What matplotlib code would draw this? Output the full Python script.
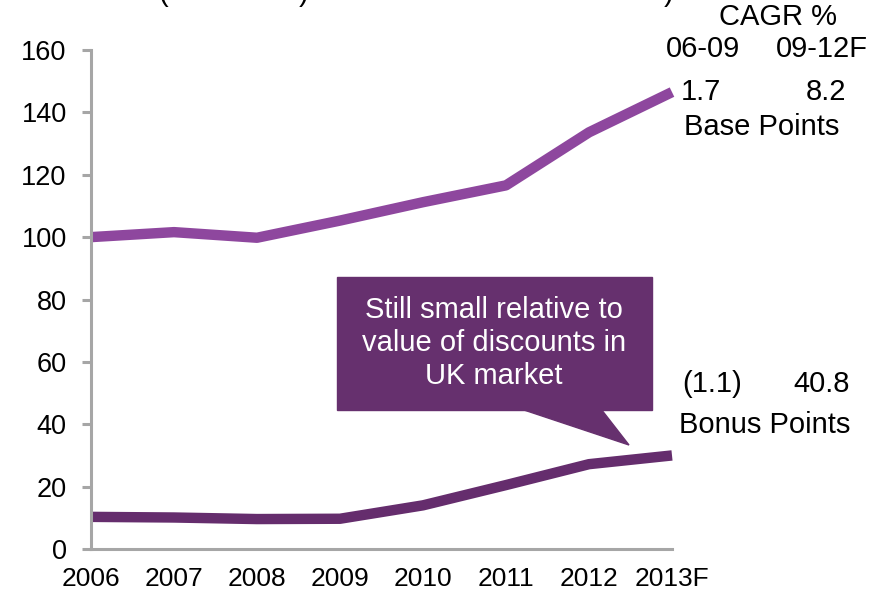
import matplotlib.pyplot as plt
from matplotlib.patches import Polygon, Rectangle

plt.rcParams['font.family'] = ['Liberation Sans', 'DejaVu Sans']

# datos
years = ['2006', '2007', '2008', '2009', '2010', '2011', '2012', '2013F']
base_points = [100, 101.6, 99.8, 105.3, 111.2, 116.6, 133.6, 146.5]
bonus_points = [10.3, 10.1, 9.6, 9.7, 14.0, 20.5, 27.2, 30.0]
cagr_periods = ['06-09', '09-12F']
cagr_base = ['1.7', '8.2']
cagr_bonus = ['(1.1)', '40.8']

base_color = '#8E479E'
bonus_color = '#652D6D'
box_color = '#66306E'
axis_gray = '#A6A6A6'

W, H = 883, 592
fig = plt.figure(figsize=(W / 100, H / 100), dpi=100)
ax = fig.add_axes([91 / W, 1 - 549 / H, (672 - 91) / W, (549 - 50) / H])

x = range(len(years))
ax.plot(x, base_points, color=base_color, lw=7.5, solid_capstyle='butt', solid_joinstyle='round', clip_on=False)
ax.plot(x, bonus_points, color=bonus_color, lw=7.5, solid_capstyle='butt', solid_joinstyle='round', clip_on=False)

ax.set_xlim(0, len(years) - 1)
ax.set_ylim(0, 160)
ax.set_yticks(range(0, 161, 20))
ax.set_xticks(list(x))
ax.set_xticklabels(years)

for s in ['top', 'right']:
    ax.spines[s].set_visible(False)
for s in ['left', 'bottom']:
    ax.spines[s].set_color(axis_gray)
    ax.spines[s].set_linewidth(2.2)
ax.tick_params(axis='y', length=6.5, width=2.2, color=axis_gray, pad=11, labelsize=19.5)
ax.tick_params(axis='x', length=0, pad=13, labelsize=19)

# globo de texto
def px(xp, yp):
    return (xp - 91) / 83.0, (549 - yp) * 160 / 499.0

bl = px(337, 410)
tr = px(652, 277)
ax.add_patch(Rectangle(bl, tr[0] - bl[0], tr[1] - bl[1], color=box_color, clip_on=False, zorder=3))
ax.add_patch(Polygon([px(521, 409), px(629, 445), px(601, 409)], closed=True, color=box_color, clip_on=False, zorder=3))
cx, cy = px(494, 343)
ax.text(cx, cy, 'Still small relative to\nvalue of discounts in\nUK market', color='white', fontsize=21,
        ha='center', va='center', linespacing=1.22, zorder=4)

# textos CAGR
def ft(xp, yp, s, **kw):
    fig.text(xp / W, 1 - yp / H, s, fontsize=21, ha='center', va='center', **kw)

ft(778, 17, 'CAGR %')
ft(703, 49, cagr_periods[0])
ft(822, 49, cagr_periods[1])
ft(701, 92, cagr_base[0])
ft(826, 92, cagr_base[1])
ft(762, 127, 'Base Points')
ft(712, 384, cagr_bonus[0])
ft(822, 384, cagr_bonus[1])
ft(765, 425, 'Bonus Points')

# titulo cortado arriba
for xp, s in [(163, '('), (304, ')'), (669, ')')]:
    fig.text(xp / W, 1 - 1 / H, s, fontsize=21, ha='center', va='baseline')

fig.savefig('out.png', dpi=100)
